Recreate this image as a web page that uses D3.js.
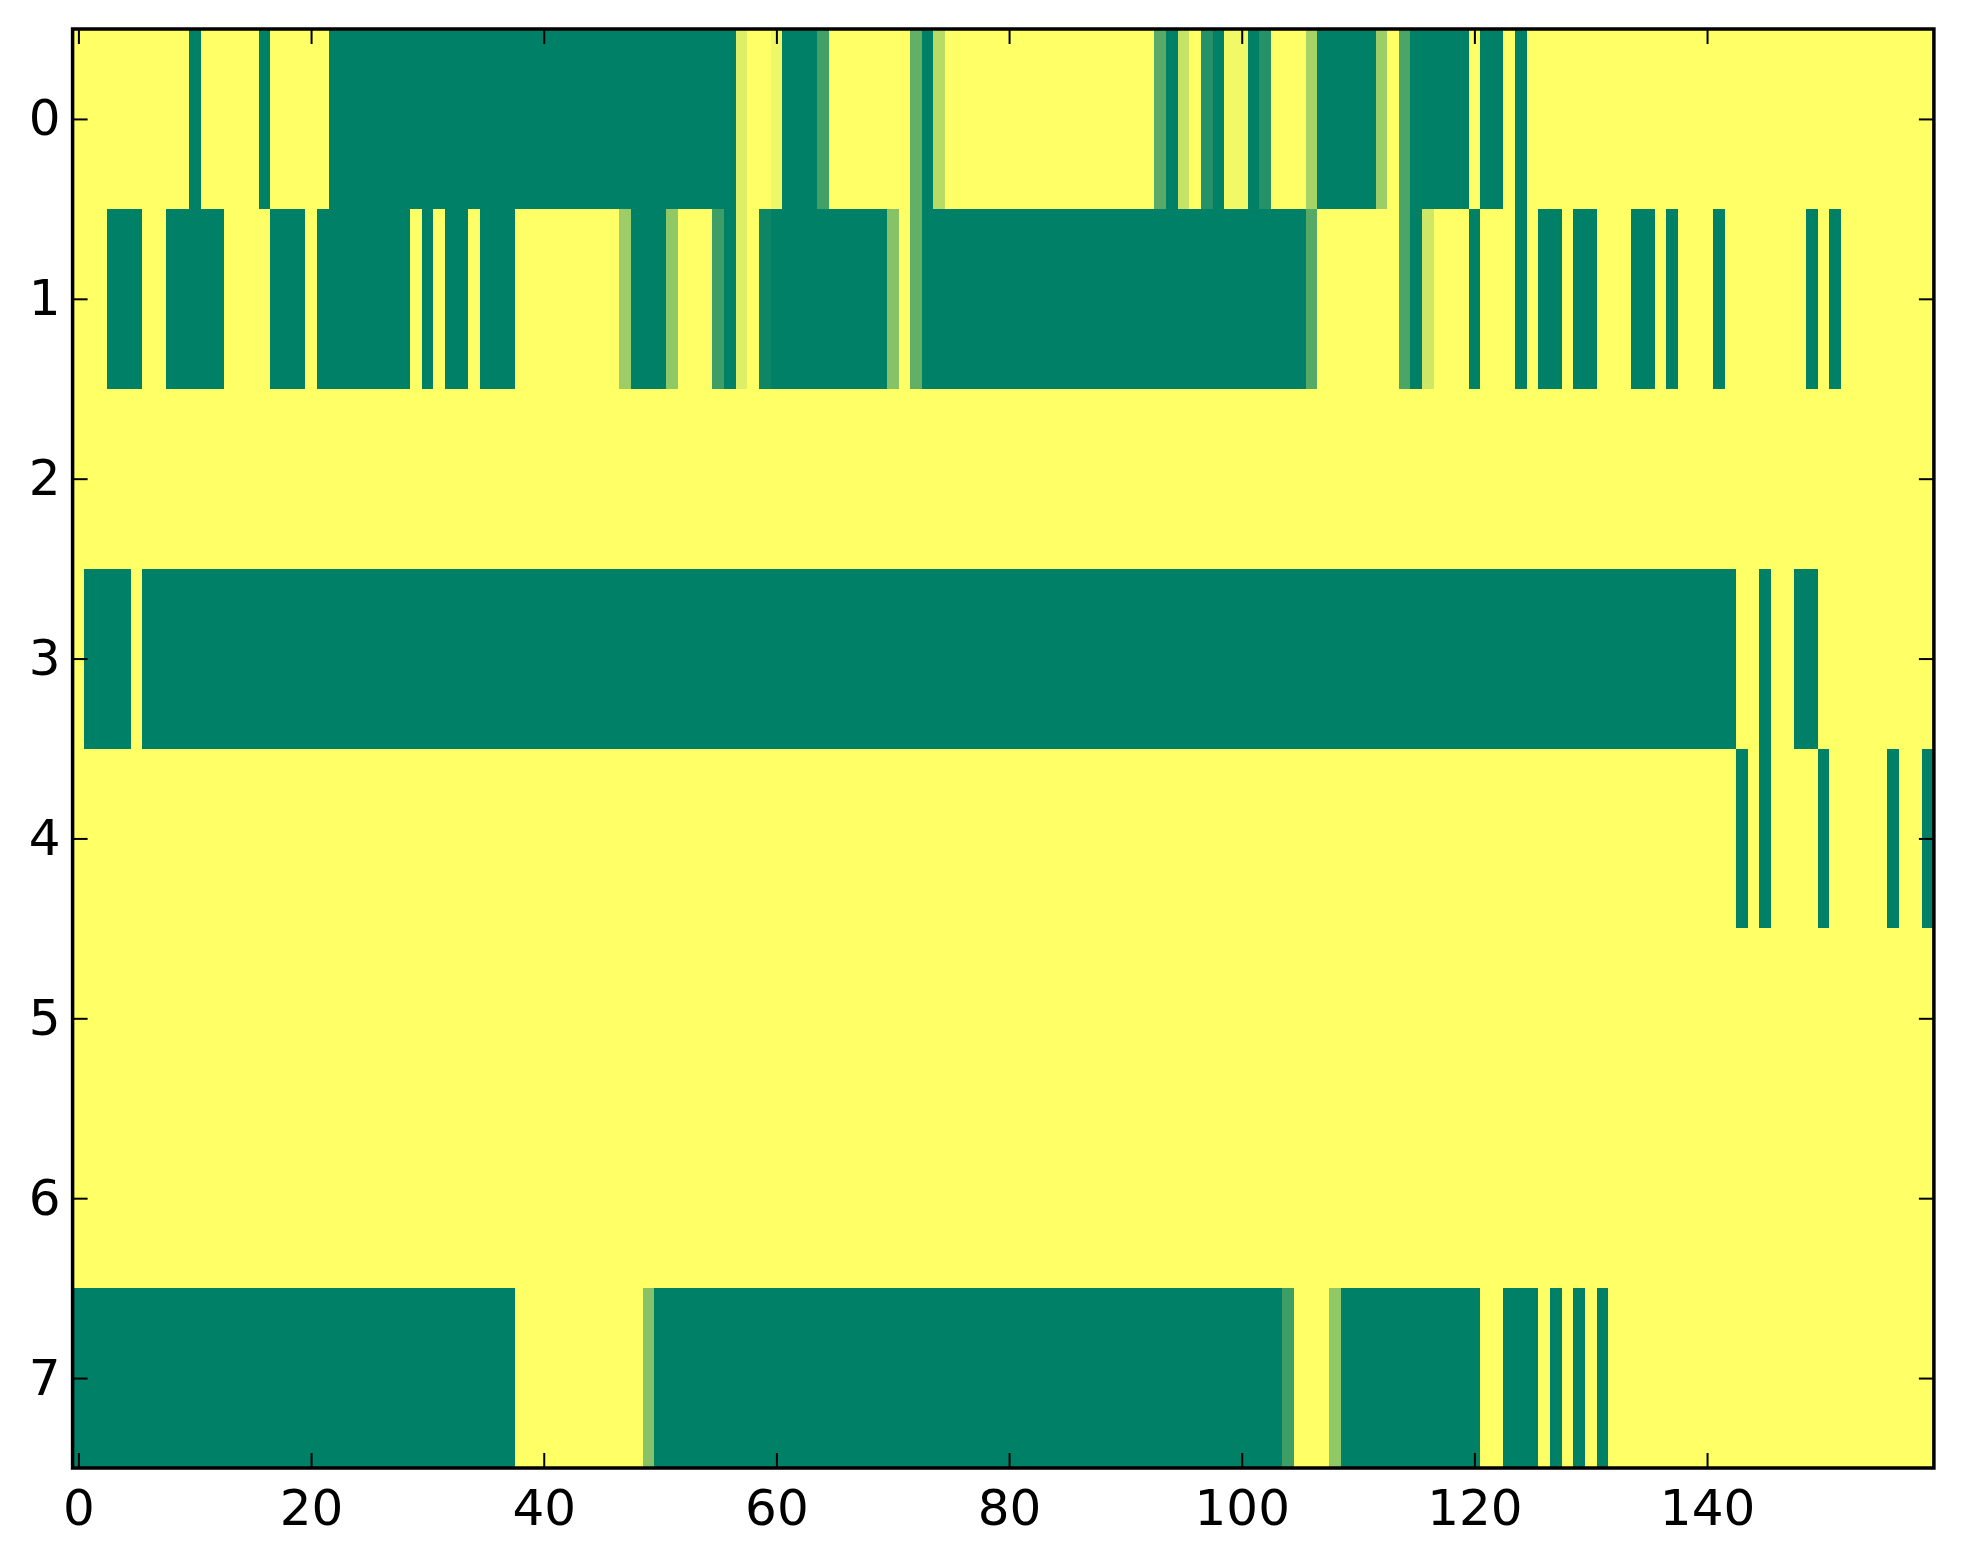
<!DOCTYPE html>
<html>
<head>
<meta charset="utf-8">
<script src="https://cdn.jsdelivr.net/npm/d3@7"></script>
<style>
  body { margin: 0; background: #fff; }
  text { font-family: "DejaVu Sans", sans-serif; }
</style>
</head>
<body>
<div class="board"></div>
<script>
// each row is a list of [value, how many columns] runs, 160 columns per row
var row0 = [[1,10],[0,1],[1,5],[0,1],[1,5],[0,35],[0.87,1],[1,2],[0.94,1],[0,3],[0.25,1],
            [1,7],[0.38,1],[0,1],[0.72,1],[1,18],[0.34,1],[0,1],[0.78,1],[1,1],[0.14,1],
            [0,1],[0.95,2],[0,1],[0.14,1],[1,3],[0.65,1],[0,5],[0.61,1],[1,1],[0.29,1],
            [0,5],[1,1],[0,2],[1,1],[0,1],[1,35]];
var row1 = [[1,3],[0,3],[1,2],[0,5],[1,4],[0,3],[1,1],[0,8],[1,1],[0,1],[1,1],[0,2],[1,1],
            [0,3],[1,9],[0.61,1],[0,3],[0.57,1],[1,3],[0.24,1],[0,1],[0.87,1],[1,1],
            [0.05,1],[0,10],[0.53,1],[1,1],[0.38,1],[0,33],[0.33,1],[1,7],[0.29,1],[0,1],
            [0.81,1],[1,3],[0,1],[1,3],[0,1],[1,1],[0,2],[1,1],[0,2],[1,3],[0,2],[1,1],
            [0,1],[1,3],[0,1],[1,7],[0,1],[1,1],[0,1],[1,8]];
var row2 = [[1,160]];
var row3 = [[1,1],[0,4],[1,1],[0,137],[1,2],[0,1],[1,2],[0,2],[1,10]];
var row4 = [[1,143],[0,1],[1,1],[0,1],[1,4],[0,1],[1,5],[0,1],[1,2],[0,1]];
var row5 = [[1,160]];
var row6 = [[1,160]];
var row7 = [[0,38],[1,11],[0.53,1],[0,54],[0.24,1],[1,3],[0.57,1],[0,12],[1,2],[0,3],
            [1,1],[0,1],[1,1],[0,1],[1,1],[0,1],[1,28]];

var rows = [row0, row1, row2, row3, row4, row5, row6, row7];
var xTicks = [0, 20, 40, 60, 80, 100, 120, 140];
var yTicks = [0, 1, 2, 3, 4, 5, 6, 7];

var svgW = 1963, svgH = 1564;
var plotL = 72.6, plotR = 1933.9, plotT = 29, plotB = 1468;

var svg = d3.select(".board").append("svg")
            .attr("width", svgW)
            .attr("height", svgH);

svg.append("rect").attr("width", svgW).attr("height", svgH).attr("fill", "#fff");

var x = d3.scaleLinear().domain([-0.5, 159.5]).range([plotL, plotR]);
var y = d3.scaleLinear().domain([-0.5, 7.5]).range([plotT, plotB]);
// summer colormap, linear from green to yellow
var color = d3.scaleLinear().domain([0, 1]).range(["#008066", "#ffff66"]);

// unpack runs into cells
var cells = [];
rows.forEach(function(runs, r) {
  var c = 0;
  runs.forEach(function(run) {
    for (var k = 0; k < run[1]; k++) {
      cells.push({ row: r, col: c, v: run[0] });
      c++;
    }
  });
});

svg.append("g")
   .selectAll("rect")
   .data(cells)
   .enter()
   .append("rect")
   .attr("x", function(d) { return x(d.col - 0.5); })
   .attr("y", function(d) { return y(d.row - 0.5); })
   .attr("width", function(d) { return x(d.col + 0.5) - x(d.col - 0.5) + 0.6; })
   .attr("height", function(d) { return y(d.row + 0.5) - y(d.row - 0.5) + 0.6; })
   .attr("shape-rendering", "crispEdges")
   .style("fill", function(d) { return color(d.v); });

// axes, ticks pointing inward like the classic style
function styleAxis(g) {
  g.select(".domain").remove();
  g.selectAll(".tick line").attr("stroke", "#000").attr("stroke-width", 2);
  g.selectAll(".tick text").attr("fill", "#000").style("font-size", "50px")
   .style("font-family", "'DejaVu Sans', sans-serif");
}

svg.append("g").attr("transform", "translate(0," + plotB + ")")
   .call(d3.axisBottom(x).tickValues(xTicks).tickSize(-15).tickPadding(21))
   .call(styleAxis);
svg.append("g").attr("transform", "translate(0," + plotT + ")")
   .call(d3.axisTop(x).tickValues(xTicks).tickSize(-15).tickFormat(""))
   .call(styleAxis);
svg.append("g").attr("transform", "translate(" + plotL + ",0)")
   .call(d3.axisLeft(y).tickValues(yTicks).tickSize(-15).tickPadding(12))
   .call(styleAxis);
svg.append("g").attr("transform", "translate(" + plotR + ",0)")
   .call(d3.axisRight(y).tickValues(yTicks).tickSize(-15).tickFormat(""))
   .call(styleAxis);

// frame
svg.append("rect")
   .attr("x", plotL).attr("y", plotT)
   .attr("width", plotR - plotL).attr("height", plotB - plotT)
   .attr("fill", "none")
   .attr("stroke", "#000")
   .attr("stroke-width", 3.5);
</script>
</body>
</html>
